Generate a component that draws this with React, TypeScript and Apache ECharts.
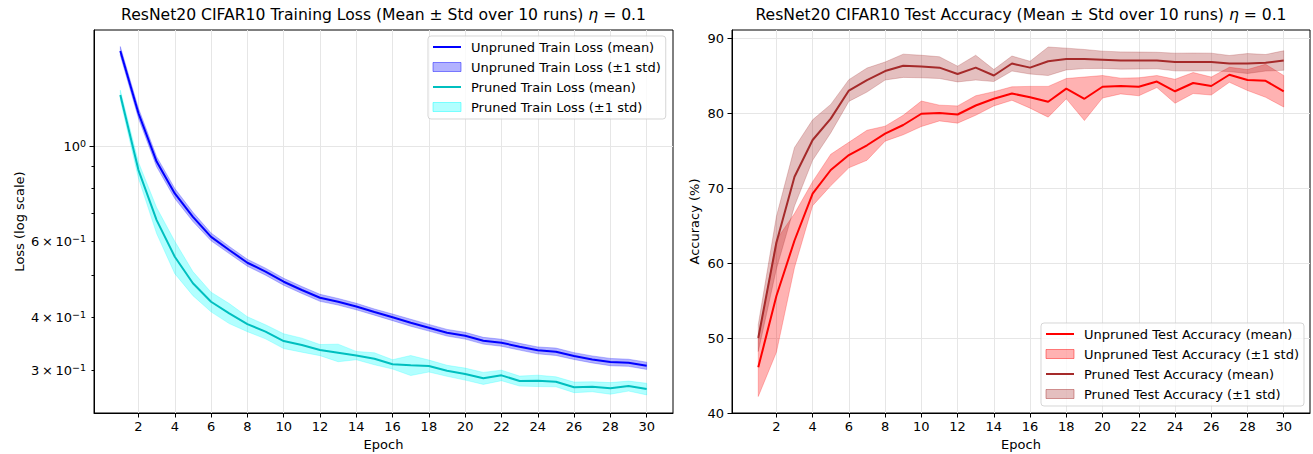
import React, { useEffect, useRef } from 'react';
import * as echarts from 'echarts';

// ---------- data ----------
const EPOCHS = [1, 2, 3, 4, 5, 6, 7, 8, 9, 10, 11, 12, 13, 14, 15, 16, 17, 18, 19, 20, 21, 22, 23, 24, 25, 26, 27, 28, 29, 30];
const X_TICKS = [2, 4, 6, 8, 10, 12, 14, 16, 18, 20, 22, 24, 26, 28, 30];

const UNPRUNED_LOSS_MEAN = [1.673, 1.197, 0.923, 0.778, 0.686, 0.616, 0.574, 0.536, 0.511, 0.484, 0.463, 0.444, 0.4346, 0.4236, 0.4112, 0.3997, 0.3883, 0.378, 0.368, 0.3621, 0.3525, 0.3487, 0.3413, 0.3347, 0.3322, 0.3246, 0.3188, 0.3143, 0.3131, 0.3081];
const UNPRUNED_LOSS_STD = [0.04, 0.032, 0.025, 0.021, 0.017, 0.013, 0.011, 0.01, 0.0096, 0.0091, 0.0087, 0.0084, 0.0077, 0.0075, 0.0068, 0.0071, 0.0073, 0.0068, 0.0066, 0.0066, 0.0064, 0.0066, 0.0062, 0.0062, 0.0066, 0.006, 0.006, 0.0062, 0.006, 0.006];
const PRUNED_LOSS_MEAN = [1.32, 0.882, 0.674, 0.5535, 0.48, 0.4346, 0.4084, 0.3855, 0.37, 0.3519, 0.3444, 0.3353, 0.3304, 0.3255, 0.32, 0.3105, 0.3089, 0.3078, 0.3, 0.2947, 0.288, 0.2926, 0.2838, 0.2842, 0.2827, 0.2744, 0.2753, 0.2729, 0.2763, 0.2719];
const PRUNED_LOSS_STD = [0.035, 0.038, 0.047, 0.048, 0.031, 0.023, 0.022, 0.0155, 0.014, 0.014, 0.013, 0.01, 0.0156, 0.0073, 0.0103, 0.0078, 0.0166, 0.0099, 0.0089, 0.0095, 0.0093, 0.0083, 0.0076, 0.0087, 0.0076, 0.0078, 0.0074, 0.0085, 0.0074, 0.0085];

const UNPRUNED_ACC_MEAN = [46.1, 55.6, 63.0, 69.25, 72.4, 74.4, 75.7, 77.25, 78.4, 79.9, 80.0, 79.8, 81.0, 81.9, 82.6, 82.1, 81.5, 83.25, 81.9, 83.5, 83.6, 83.5, 84.2, 82.9, 84.0, 83.6, 85.1, 84.4, 84.3, 82.9];
const UNPRUNED_ACC_STD = [3.9, 7.5, 3.6, 1.6, 2.1, 1.7, 2.0, 1.0, 1.3, 1.7, 1.05, 1.15, 1.3, 0.95, 0.9, 1.45, 2.05, 1.35, 2.9, 1.5, 1.05, 1.2, 0.8, 1.6, 1.4, 1.2, 1.0, 1.4, 2.2, 2.1];
const PRUNED_ACC_MEAN = [50.0, 62.7, 71.5, 76.4, 79.25, 83.0, 84.4, 85.6, 86.3, 86.2, 86.05, 85.2, 86.05, 85.0, 86.6, 86.05, 86.9, 87.2, 87.2, 87.1, 87.0, 87.0, 87.0, 86.8, 86.8, 86.8, 86.6, 86.6, 86.7, 87.0];
const PRUNED_ACC_STD = [1.8, 3.5, 3.9, 2.7, 1.9, 1.45, 1.6, 1.2, 1.55, 1.5, 1.45, 1.05, 1.65, 0.8, 1.0, 0.85, 1.9, 1.45, 1.27, 1.15, 1.15, 1.13, 1.1, 1.18, 1.2, 1.18, 1.07, 1.33, 1.1, 1.3];

const LOSS_LABEL_VALUES = [0.3, 0.4, 0.6, 1.0];
const LOSS_LABEL_TEXTS = ['3\u2009\u00d7\u200910{s|\u22121}', '4\u2009\u00d7\u200910{s|\u22121}', '6\u2009\u00d7\u200910{s|\u22121}', '10{s|0}'];
const LOSS_MINOR_TICKS = [0.3, 0.4, 0.5, 0.6, 0.7, 0.8, 0.9];
const LOSS_MAJOR_TICKS = [1.0];
const ACC_TICKS = [40, 50, 60, 70, 80, 90];

const TITLE_LOSS = 'ResNet20 CIFAR10 Training Loss (Mean \u00b1 Std over 10 runs) {i|\u03b7} = 0.1';
const TITLE_ACC = 'ResNet20 CIFAR10 Test Accuracy (Mean \u00b1 Std over 10 runs) {i|\u03b7} = 0.1';

const NAMES = {
  uLossMean: 'Unpruned Train Loss (mean)',
  uLossStd: 'Unpruned Train Loss (\u00b11 std)',
  pLossMean: 'Pruned Train Loss (mean)',
  pLossStd: 'Pruned Train Loss (\u00b11 std)',
  uAccMean: 'Unpruned Test Accuracy (mean)',
  uAccStd: 'Unpruned Test Accuracy (\u00b11 std)',
  pAccMean: 'Pruned Test Accuracy (mean)',
  pAccStd: 'Pruned Test Accuracy (\u00b11 std)',
};

// ---------- style ----------
const FONT = 'DejaVu Sans';
const FS = 13;
const TITLE_FS = 15.6;
const GRID_COLOR = '#e6e6e6';
const C_BLUE = '#0000ff';
const C_BLUE_BAND = 'rgba(0,0,255,0.3)';
const C_CYAN = '#00bfbf';
const C_CYAN_BAND = 'rgba(0,255,255,0.3)';
const C_RED = '#ff0000';
const C_RED_BAND = 'rgba(255,0,0,0.3)';
const C_BROWN = '#a52a2a';
const C_BROWN_BAND = 'rgba(165,42,42,0.3)';

const lg = (v: number) => Math.log10(v);

const LOSS_MIN = -0.6216; // log10 of axis bottom
const LOSS_MAX = 0.2724; // log10 of axis top

function bandSeries(name: string, xi: number, yi: number, mean: number[], std: number[], color: string, log: boolean) {
  const f = log ? lg : (v: number) => v;
  return {
    type: 'custom',
    name,
    xAxisIndex: xi,
    yAxisIndex: yi,
    clip: true,
    itemStyle: { color },
    data: [[EPOCHS[0], f(mean[0])]],
    renderItem: (params: any, api: any) => {
      const upper = EPOCHS.map((e, i) => api.coord([e, f(mean[i] + std[i])]));
      const lower = EPOCHS.map((e, i) => api.coord([e, f(mean[i] - std[i])])).reverse();
      return {
        type: 'polygon',
        shape: { points: upper.concat(lower) },
        style: { fill: color, stroke: color, lineWidth: 0.8 },
      };
    },
  };
}

function lineSeries(name: string, xi: number, yi: number, mean: number[], color: string, log: boolean) {
  const f = log ? lg : (v: number) => v;
  return {
    type: 'line',
    name,
    xAxisIndex: xi,
    yAxisIndex: yi,
    symbol: 'none',
    showSymbol: false,
    color,
    lineStyle: { color, width: 2 },
    data: EPOCHS.map((e, i) => [e, f(mean[i])]),
  };
}

const axisText = { fontFamily: FONT, fontSize: FS, color: '#000' };

function xAxis(gridIndex: number) {
  return {
    type: 'value',
    gridIndex,
    min: -0.45,
    max: 31.45,
    name: 'Epoch',
    nameLocation: 'middle',
    nameGap: 25,
    nameTextStyle: axisText,
    axisLine: { show: true, onZero: false, lineStyle: { color: '#000', width: 1 } },
    axisTick: { show: true, length: 4.5, customValues: X_TICKS, lineStyle: { color: '#000' } },
    axisLabel: { customValues: X_TICKS, margin: 7, ...axisText },
    splitLine: { show: true, lineStyle: { color: GRID_COLOR, width: 1 } },
  };
}

const HIDE_SYMBOL = { color: 'rgba(0,0,0,0)', borderWidth: 0, opacity: 0 };

function legend(data: any[], left: number, top: number) {
  return {
    data,
    left,
    top,
    orient: 'vertical',
    itemWidth: 28,
    itemHeight: 9,
    itemGap: 6,
    selectedMode: false,
    backgroundColor: 'rgba(255,255,255,0.8)',
    borderColor: 'rgba(204,204,204,0.8)',
    borderWidth: 1,
    borderRadius: 3,
    padding: [4, 5, 5, 4],
    textStyle: { fontFamily: FONT, fontSize: FS, color: '#000', lineHeight: 14, padding: [0, 0, 0, 5] },
  };
}

const option: any = {
  animation: false,
  backgroundColor: '#fff',
  grid: [
    { left: 94, top: 30, width: 579, height: 383, show: true, borderColor: '#000', borderWidth: 1, backgroundColor: 'transparent', containLabel: false, outerBoundsMode: 'none' },
    { left: 732, top: 30, width: 578, height: 383, show: true, borderColor: '#000', borderWidth: 1, backgroundColor: 'transparent', containLabel: false, outerBoundsMode: 'none' },
  ],
  graphic: [
    {
      type: 'text',
      x: 383.5,
      y: 15,
      style: { text: TITLE_LOSS, fontFamily: FONT, fontSize: TITLE_FS, fill: '#000', align: 'center', verticalAlign: 'middle', rich: { i: { fontStyle: 'italic', fontFamily: FONT, fontSize: TITLE_FS } } },
    },
    {
      type: 'text',
      x: 1021,
      y: 15,
      style: { text: TITLE_ACC, fontFamily: FONT, fontSize: TITLE_FS, fill: '#000', align: 'center', verticalAlign: 'middle', rich: { i: { fontStyle: 'italic', fontFamily: FONT, fontSize: TITLE_FS } } },
    },
  ],
  xAxis: [xAxis(0), xAxis(1)],
  yAxis: [
    {
      type: 'value',
      gridIndex: 0,
      min: LOSS_MIN,
      max: LOSS_MAX,
      name: 'Loss (log scale)',
      nameLocation: 'middle',
      nameGap: 68,
      nameTextStyle: axisText,
      axisLine: { show: true, onZero: false, lineStyle: { color: '#000', width: 1 } },
      axisTick: { show: true, length: 2.5, customValues: LOSS_MINOR_TICKS.map(lg), lineStyle: { color: '#000' } },
      axisLabel: {
        customValues: LOSS_LABEL_VALUES.map(lg),
        margin: 8,
        ...axisText,
        lineHeight: 16,
        formatter: (val: number) => {
          let best = 0;
          LOSS_LABEL_VALUES.forEach((v, i) => {
            if (Math.abs(lg(v) - val) < Math.abs(lg(LOSS_LABEL_VALUES[best]) - val)) best = i;
          });
          return LOSS_LABEL_TEXTS[best];
        },
        rich: { s: { fontFamily: FONT, fontSize: 9.5, lineHeight: 10, verticalAlign: 'top', color: '#000' } },
      },
      splitLine: { show: false },
    },
    {
      type: 'value',
      gridIndex: 0,
      min: LOSS_MIN,
      max: LOSS_MAX,
      position: 'left',
      axisLine: { show: false, onZero: false },
      axisTick: { show: true, length: 4.5, customValues: LOSS_MAJOR_TICKS.map(lg), lineStyle: { color: '#000' } },
      axisLabel: { show: false },
      splitLine: { show: true, lineStyle: { color: GRID_COLOR, width: 1 } },
    },
    {
      type: 'value',
      gridIndex: 1,
      min: 40,
      max: 91.07,
      name: 'Accuracy (%)',
      nameLocation: 'middle',
      nameGap: 31,
      nameTextStyle: axisText,
      axisLine: { show: true, onZero: false, lineStyle: { color: '#000', width: 1 } },
      axisTick: { show: true, length: 4.5, customValues: ACC_TICKS, lineStyle: { color: '#000' } },
      axisLabel: { customValues: ACC_TICKS, margin: 8, ...axisText },
      splitLine: { show: true, lineStyle: { color: GRID_COLOR, width: 1 } },
    },
  ],
  legend: [
    legend(
      [
        { name: NAMES.uLossMean, itemStyle: HIDE_SYMBOL },
        { name: NAMES.uLossStd, icon: 'rect', itemStyle: { color: C_BLUE_BAND, borderColor: 'rgba(0,0,255,0.45)', borderWidth: 1 } },
        { name: NAMES.pLossMean, itemStyle: HIDE_SYMBOL },
        { name: NAMES.pLossStd, icon: 'rect', itemStyle: { color: C_CYAN_BAND, borderColor: 'rgba(0,255,255,0.45)', borderWidth: 1 } },
      ],
      428,
      36
    ),
    legend(
      [
        { name: NAMES.uAccMean, itemStyle: HIDE_SYMBOL },
        { name: NAMES.uAccStd, icon: 'rect', itemStyle: { color: C_RED_BAND, borderColor: 'rgba(255,0,0,0.45)', borderWidth: 1 } },
        { name: NAMES.pAccMean, itemStyle: HIDE_SYMBOL },
        { name: NAMES.pAccStd, icon: 'rect', itemStyle: { color: C_BROWN_BAND, borderColor: 'rgba(165,42,42,0.45)', borderWidth: 1 } },
      ],
      1041,
      323
    ),
  ],
  series: [
    lineSeries(NAMES.uLossMean, 0, 0, UNPRUNED_LOSS_MEAN, C_BLUE, true),
    bandSeries(NAMES.uLossStd, 0, 0, UNPRUNED_LOSS_MEAN, UNPRUNED_LOSS_STD, C_BLUE_BAND, true),
    lineSeries(NAMES.pLossMean, 0, 0, PRUNED_LOSS_MEAN, C_CYAN, true),
    bandSeries(NAMES.pLossStd, 0, 0, PRUNED_LOSS_MEAN, PRUNED_LOSS_STD, C_CYAN_BAND, true),
    lineSeries(NAMES.uAccMean, 1, 2, UNPRUNED_ACC_MEAN, C_RED, false),
    bandSeries(NAMES.uAccStd, 1, 2, UNPRUNED_ACC_MEAN, UNPRUNED_ACC_STD, C_RED_BAND, false),
    lineSeries(NAMES.pAccMean, 1, 2, PRUNED_ACC_MEAN, C_BROWN, false),
    bandSeries(NAMES.pAccStd, 1, 2, PRUNED_ACC_MEAN, PRUNED_ACC_STD, C_BROWN_BAND, false),
  ],
};

export default function App() {
  const ref = useRef<HTMLDivElement>(null);
  useEffect(() => {
    if (!ref.current) return;
    const chart = echarts.init(ref.current, undefined, { renderer: 'svg' });
    chart.setOption(option);
    return () => chart.dispose();
  }, []);
  return <div ref={ref} style={{ position: 'absolute', left: 0, top: 0, width: 1313, height: 454, background: '#fff' }} />;
}
